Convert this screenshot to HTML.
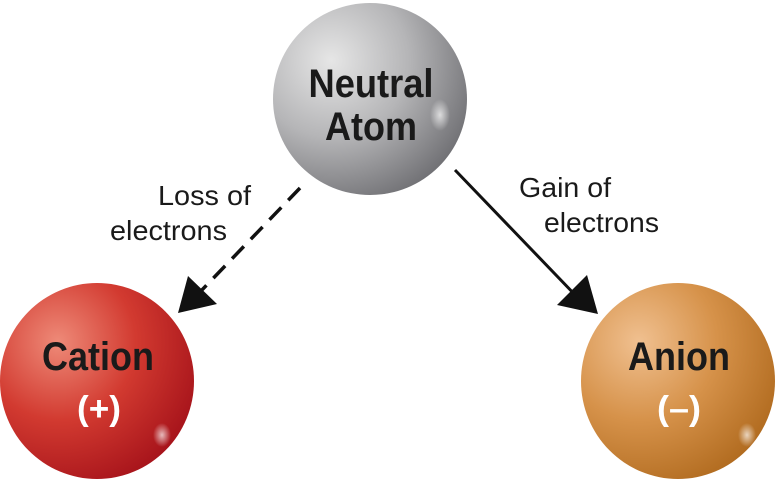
<!DOCTYPE html>
<html><head><style>
body{margin:0;width:775px;height:479px;background:#fff;overflow:hidden;position:relative;font-family:"Liberation Sans",sans-serif}
</style></head><body>
<svg width="775" height="479" viewBox="0 0 775 479" style="position:absolute;left:0;top:0">
<defs>
<radialGradient id="g" cx="0.3" cy="0.3" r="0.8">
<stop offset="0" stop-color="#e6e6e6"/><stop offset="0.5" stop-color="#b5b5b7"/><stop offset="1" stop-color="#6e6e72"/></radialGradient>
<radialGradient id="r" cx="0.3" cy="0.3" r="0.8">
<stop offset="0" stop-color="#ee8a78"/><stop offset="0.5" stop-color="#d23a30"/><stop offset="1" stop-color="#a5121a"/></radialGradient>
<radialGradient id="o" cx="0.3" cy="0.3" r="0.8">
<stop offset="0" stop-color="#f0c090"/><stop offset="0.5" stop-color="#d6924a"/><stop offset="1" stop-color="#b06a1e"/></radialGradient>
<radialGradient id="h" cx="0.5" cy="0.5" r="0.5"><stop offset="0" stop-color="#fff" stop-opacity="0.7"/><stop offset="1" stop-color="#fff" stop-opacity="0"/></radialGradient>
</defs>
<ellipse cx="370" cy="99" rx="97" ry="96" fill="url(#g)"/>
<ellipse cx="440" cy="115" rx="10" ry="16" fill="url(#h)"/>
<ellipse cx="97" cy="381" rx="97" ry="98" fill="url(#r)"/>
<ellipse cx="162" cy="435" rx="9" ry="12" fill="url(#h)"/>
<ellipse cx="678" cy="381" rx="97" ry="98" fill="url(#o)"/>
<ellipse cx="747" cy="435" rx="9" ry="12" fill="url(#h)"/>
<line x1="300" y1="188" x2="200" y2="292" stroke="#111" stroke-width="3.5" stroke-dasharray="17,10"/>
<polygon points="178,313 217,304 188,276" fill="#111"/>
<line x1="455" y1="170" x2="580" y2="300" stroke="#111" stroke-width="3"/>
<polygon points="598,314 557,305 587,275" fill="#111"/>
<g font-family="Liberation Sans,sans-serif" text-anchor="middle" font-weight="bold" fill="#1a1a1a" font-size="40" lengthAdjust="spacingAndGlyphs">
<text x="371" y="97" textLength="125" lengthAdjust="spacingAndGlyphs">Neutral</text>
<text x="371" y="140" textLength="92" lengthAdjust="spacingAndGlyphs">Atom</text>
<text x="98" y="370" textLength="112" lengthAdjust="spacingAndGlyphs">Cation</text>
<text x="679" y="370" textLength="102" lengthAdjust="spacingAndGlyphs">Anion</text>
<text x="99" y="420" fill="#fff" font-size="34" textLength="44" lengthAdjust="spacingAndGlyphs">(+)</text>
<text x="679" y="420" fill="#fff" font-size="34" textLength="44" lengthAdjust="spacingAndGlyphs">(–)</text>
</g>
<g font-family="Liberation Sans,sans-serif" font-size="28" fill="#1a1a1a">
<text x="158" y="205" textLength="93" lengthAdjust="spacingAndGlyphs">Loss of</text>
<text x="110" y="240" textLength="117" lengthAdjust="spacingAndGlyphs">electrons</text>
<text x="519" y="197" textLength="92" lengthAdjust="spacingAndGlyphs">Gain of</text>
<text x="544" y="232" textLength="115" lengthAdjust="spacingAndGlyphs">electrons</text>
</g>
</svg>
</body></html>
